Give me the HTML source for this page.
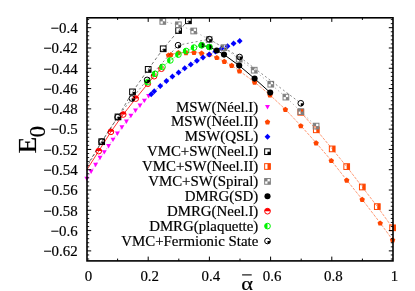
<!DOCTYPE html>
<html><head><meta charset="utf-8"><title>E0 vs alpha</title>
<style>
html,body{margin:0;padding:0;background:#fff;}
body{width:415px;height:291px;overflow:hidden;}
svg{display:block;font-family:"Liberation Serif",serif;fill:#000;will-change:transform;}
text{stroke:#000;stroke-width:0.18px;}
</style></head><body>
<svg width="415" height="291" viewBox="0 0 415 291">
<rect width="415" height="291" fill="#fff"/>
<g>
<polyline points="86.8,178.5 91.1,171.4 95.6,164.6 100.0,157.6 104.3,152.0 108.6,145.8 113.0,139.5 117.4,133.3 121.9,127.2 126.4,121.3 130.9,115.6 135.5,110.4 140.0,105.4 144.4,100.5 148.6,95.8" fill="none" stroke="#ff00ff" stroke-width="0.5" stroke-dasharray="2,1.5" stroke-opacity="0.8"/>
<polygon points="84.35,176.65 89.25,176.65 86.80,181.10" fill="#ff00ff"/>
<polygon points="88.65,169.55 93.55,169.55 91.10,174.00" fill="#ff00ff"/>
<polygon points="93.15,162.75 98.05,162.75 95.60,167.20" fill="#ff00ff"/>
<polygon points="97.55,155.75 102.45,155.75 100.00,160.20" fill="#ff00ff"/>
<polygon points="101.85,150.15 106.75,150.15 104.30,154.60" fill="#ff00ff"/>
<polygon points="106.15,143.95 111.05,143.95 108.60,148.40" fill="#ff00ff"/>
<polygon points="110.55,137.65 115.45,137.65 113.00,142.10" fill="#ff00ff"/>
<polygon points="114.95,131.45 119.85,131.45 117.40,135.90" fill="#ff00ff"/>
<polygon points="119.45,125.35 124.35,125.35 121.90,129.80" fill="#ff00ff"/>
<polygon points="123.95,119.45 128.85,119.45 126.40,123.90" fill="#ff00ff"/>
<polygon points="128.45,113.75 133.35,113.75 130.90,118.20" fill="#ff00ff"/>
<polygon points="133.05,108.55 137.95,108.55 135.50,113.00" fill="#ff00ff"/>
<polygon points="137.55,103.55 142.45,103.55 140.00,108.00" fill="#ff00ff"/>
<polygon points="141.95,98.65 146.85,98.65 144.40,103.10" fill="#ff00ff"/>
<polygon points="146.15,93.95 151.05,93.95 148.60,98.40" fill="#ff00ff"/>
<polyline points="168.5,55.0 170.9,54.5 178.4,52.6 186.0,52.6 194.0,52.4 201.6,53.1 209.4,54.4 216.8,57.5 224.3,61.4 231.7,65.3 239.5,71.0 254.6,82.1 270.0,95.0 285.4,109.4 300.8,125.7 316.1,142.8 331.3,160.5 346.7,180.1 362.2,199.4 380.2,223.0 392.6,239.9" fill="none" stroke="#ff4500" stroke-width="0.6" stroke-dasharray="3,1.2" stroke-opacity="0.9"/>
<polygon points="168.50,52.45 171.21,54.42 170.18,57.61 166.82,57.61 165.79,54.42" fill="#ff4500"/>
<polygon points="170.90,51.95 173.61,53.92 172.58,57.11 169.22,57.11 168.19,53.92" fill="#ff4500"/>
<polygon points="178.40,50.05 181.11,52.02 180.08,55.21 176.72,55.21 175.69,52.02" fill="#ff4500"/>
<polygon points="186.00,50.05 188.71,52.02 187.68,55.21 184.32,55.21 183.29,52.02" fill="#ff4500"/>
<polygon points="194.00,49.85 196.71,51.82 195.68,55.01 192.32,55.01 191.29,51.82" fill="#ff4500"/>
<polygon points="201.60,50.55 204.31,52.52 203.28,55.71 199.92,55.71 198.89,52.52" fill="#ff4500"/>
<polygon points="209.40,51.85 212.11,53.82 211.08,57.01 207.72,57.01 206.69,53.82" fill="#ff4500"/>
<polygon points="216.80,54.95 219.51,56.92 218.48,60.11 215.12,60.11 214.09,56.92" fill="#ff4500"/>
<polygon points="224.30,58.85 227.01,60.82 225.98,64.01 222.62,64.01 221.59,60.82" fill="#ff4500"/>
<polygon points="231.70,62.75 234.41,64.72 233.38,67.91 230.02,67.91 228.99,64.72" fill="#ff4500"/>
<polygon points="239.50,68.45 242.21,70.42 241.18,73.61 237.82,73.61 236.79,70.42" fill="#ff4500"/>
<polygon points="254.60,79.55 257.31,81.52 256.28,84.71 252.92,84.71 251.89,81.52" fill="#ff4500"/>
<polygon points="270.00,92.45 272.71,94.42 271.68,97.61 268.32,97.61 267.29,94.42" fill="#ff4500"/>
<polygon points="285.40,106.85 288.11,108.82 287.08,112.01 283.72,112.01 282.69,108.82" fill="#ff4500"/>
<polygon points="300.80,123.15 303.51,125.12 302.48,128.31 299.12,128.31 298.09,125.12" fill="#ff4500"/>
<polygon points="316.10,140.25 318.81,142.22 317.78,145.41 314.42,145.41 313.39,142.22" fill="#ff4500"/>
<polygon points="331.30,157.95 334.01,159.92 332.98,163.11 329.62,163.11 328.59,159.92" fill="#ff4500"/>
<polygon points="346.70,177.55 349.41,179.52 348.38,182.71 345.02,182.71 343.99,179.52" fill="#ff4500"/>
<polygon points="362.20,196.85 364.91,198.82 363.88,202.01 360.52,202.01 359.49,198.82" fill="#ff4500"/>
<polygon points="380.20,220.45 382.91,222.42 381.88,225.61 378.52,225.61 377.49,222.42" fill="#ff4500"/>
<polygon points="392.60,237.35 395.31,239.32 394.28,242.51 390.92,242.51 389.89,239.32" fill="#ff4500"/>
<polyline points="151.2,94.2 154.2,91.3 160.3,86.0 166.4,81.0 172.4,76.6 178.6,72.4 184.7,68.2 190.8,64.4 196.9,60.7 203.0,57.5 209.2,54.6 215.4,51.4 221.6,48.4 227.5,46.3 233.6,43.6 239.7,41.1" fill="none" stroke="#0000ff" stroke-width="0.5" stroke-dasharray="2,1.5" stroke-opacity="0.8"/>
<polygon points="148.30,94.20 151.20,91.20 154.10,94.20 151.20,97.20" fill="#0000ff"/>
<polygon points="151.30,91.30 154.20,88.30 157.10,91.30 154.20,94.30" fill="#0000ff"/>
<polygon points="157.40,86.00 160.30,83.00 163.20,86.00 160.30,89.00" fill="#0000ff"/>
<polygon points="163.50,81.00 166.40,78.00 169.30,81.00 166.40,84.00" fill="#0000ff"/>
<polygon points="169.50,76.60 172.40,73.60 175.30,76.60 172.40,79.60" fill="#0000ff"/>
<polygon points="175.70,72.40 178.60,69.40 181.50,72.40 178.60,75.40" fill="#0000ff"/>
<polygon points="181.80,68.20 184.70,65.20 187.60,68.20 184.70,71.20" fill="#0000ff"/>
<polygon points="187.90,64.40 190.80,61.40 193.70,64.40 190.80,67.40" fill="#0000ff"/>
<polygon points="194.00,60.70 196.90,57.70 199.80,60.70 196.90,63.70" fill="#0000ff"/>
<polygon points="200.10,57.50 203.00,54.50 205.90,57.50 203.00,60.50" fill="#0000ff"/>
<polygon points="206.30,54.60 209.20,51.60 212.10,54.60 209.20,57.60" fill="#0000ff"/>
<polygon points="212.50,51.40 215.40,48.40 218.30,51.40 215.40,54.40" fill="#0000ff"/>
<polygon points="218.70,48.40 221.60,45.40 224.50,48.40 221.60,51.40" fill="#0000ff"/>
<polygon points="224.60,46.30 227.50,43.30 230.40,46.30 227.50,49.30" fill="#0000ff"/>
<polygon points="230.70,43.60 233.60,40.60 236.50,43.60 233.60,46.60" fill="#0000ff"/>
<polygon points="236.80,41.10 239.70,38.10 242.60,41.10 239.70,44.10" fill="#0000ff"/>
<polyline points="86.6,166.3 101.7,141.7 118.0,116.9 132.5,91.9 148.2,69.4 163.2,48.8 178.6,30.5 188.4,20.8" fill="none" stroke="#000000" stroke-width="0.6" stroke-dasharray="3,2.5" stroke-opacity="0.9"/>
<rect x="98.85" y="138.85" width="5.7" height="5.7" fill="none" stroke="#000000" stroke-width="1"/>
<rect x="101.70" y="141.70" width="2.85" height="2.85" fill="#000000"/>
<rect x="115.15" y="114.05" width="5.7" height="5.7" fill="none" stroke="#000000" stroke-width="1"/>
<rect x="118.00" y="116.90" width="2.85" height="2.85" fill="#000000"/>
<rect x="129.65" y="89.05" width="5.7" height="5.7" fill="none" stroke="#000000" stroke-width="1"/>
<rect x="132.50" y="91.90" width="2.85" height="2.85" fill="#000000"/>
<rect x="145.35" y="66.55" width="5.7" height="5.7" fill="none" stroke="#000000" stroke-width="1"/>
<rect x="148.20" y="69.40" width="2.85" height="2.85" fill="#000000"/>
<rect x="160.35" y="45.95" width="5.7" height="5.7" fill="none" stroke="#000000" stroke-width="1"/>
<rect x="163.20" y="48.80" width="2.85" height="2.85" fill="#000000"/>
<rect x="175.75" y="27.65" width="5.7" height="5.7" fill="none" stroke="#000000" stroke-width="1"/>
<rect x="178.60" y="30.50" width="2.85" height="2.85" fill="#000000"/>
<rect x="185.55" y="17.95" width="5.7" height="5.7" fill="none" stroke="#000000" stroke-width="1"/>
<rect x="188.40" y="20.80" width="2.85" height="2.85" fill="#000000"/>
<polyline points="300.8,112.3 316.3,129.8 332.2,148.9 346.7,166.6 362.3,187.0 377.3,206.6 392.6,227.8" fill="none" stroke="#ff4500" stroke-width="0.6" stroke-dasharray="3,1.2" stroke-opacity="0.9"/>
<rect x="297.95" y="109.45" width="5.7" height="5.7" fill="none" stroke="#ff4500" stroke-width="1"/>
<rect x="300.80" y="109.45" width="2.85" height="5.7" fill="#ff4500"/>
<rect x="313.45" y="126.95" width="5.7" height="5.7" fill="none" stroke="#ff4500" stroke-width="1"/>
<rect x="316.30" y="126.95" width="2.85" height="5.7" fill="#ff4500"/>
<rect x="329.35" y="146.05" width="5.7" height="5.7" fill="none" stroke="#ff4500" stroke-width="1"/>
<rect x="332.20" y="146.05" width="2.85" height="5.7" fill="#ff4500"/>
<rect x="343.85" y="163.75" width="5.7" height="5.7" fill="none" stroke="#ff4500" stroke-width="1"/>
<rect x="346.70" y="163.75" width="2.85" height="5.7" fill="#ff4500"/>
<rect x="359.45" y="184.15" width="5.7" height="5.7" fill="none" stroke="#ff4500" stroke-width="1"/>
<rect x="362.30" y="184.15" width="2.85" height="5.7" fill="#ff4500"/>
<rect x="374.45" y="203.75" width="5.7" height="5.7" fill="none" stroke="#ff4500" stroke-width="1"/>
<rect x="377.30" y="203.75" width="2.85" height="5.7" fill="#ff4500"/>
<rect x="389.75" y="224.95" width="5.7" height="5.7" fill="none" stroke="#ff4500" stroke-width="1"/>
<rect x="392.60" y="224.95" width="2.85" height="5.7" fill="#ff4500"/>
<polyline points="162.8,21.4 178.4,24.8 193.7,31.0 209.2,39.5 224.0,47.7 239.2,59.2 254.2,70.2 270.8,84.2 285.9,97.1 300.8,111.6 316.1,126.1" fill="none" stroke="#808080" stroke-width="0.6" stroke-dasharray="1.5,2.5" stroke-opacity="0.9"/>
<rect x="159.95" y="18.55" width="5.7" height="5.7" fill="none" stroke="#808080" stroke-width="1"/>
<rect x="159.95" y="18.55" width="2.85" height="2.85" fill="#808080"/>
<rect x="162.80" y="21.40" width="2.85" height="2.85" fill="#808080"/>
<rect x="175.55" y="21.95" width="5.7" height="5.7" fill="none" stroke="#808080" stroke-width="1"/>
<rect x="175.55" y="21.95" width="2.85" height="2.85" fill="#808080"/>
<rect x="178.40" y="24.80" width="2.85" height="2.85" fill="#808080"/>
<rect x="190.85" y="28.15" width="5.7" height="5.7" fill="none" stroke="#808080" stroke-width="1"/>
<rect x="190.85" y="28.15" width="2.85" height="2.85" fill="#808080"/>
<rect x="193.70" y="31.00" width="2.85" height="2.85" fill="#808080"/>
<rect x="206.35" y="36.65" width="5.7" height="5.7" fill="none" stroke="#808080" stroke-width="1"/>
<rect x="206.35" y="36.65" width="2.85" height="2.85" fill="#808080"/>
<rect x="209.20" y="39.50" width="2.85" height="2.85" fill="#808080"/>
<rect x="221.15" y="44.85" width="5.7" height="5.7" fill="none" stroke="#808080" stroke-width="1"/>
<rect x="221.15" y="44.85" width="2.85" height="2.85" fill="#808080"/>
<rect x="224.00" y="47.70" width="2.85" height="2.85" fill="#808080"/>
<rect x="236.35" y="56.35" width="5.7" height="5.7" fill="none" stroke="#808080" stroke-width="1"/>
<rect x="236.35" y="56.35" width="2.85" height="2.85" fill="#808080"/>
<rect x="239.20" y="59.20" width="2.85" height="2.85" fill="#808080"/>
<rect x="251.35" y="67.35" width="5.7" height="5.7" fill="none" stroke="#808080" stroke-width="1"/>
<rect x="251.35" y="67.35" width="2.85" height="2.85" fill="#808080"/>
<rect x="254.20" y="70.20" width="2.85" height="2.85" fill="#808080"/>
<rect x="267.95" y="81.35" width="5.7" height="5.7" fill="none" stroke="#808080" stroke-width="1"/>
<rect x="267.95" y="81.35" width="2.85" height="2.85" fill="#808080"/>
<rect x="270.80" y="84.20" width="2.85" height="2.85" fill="#808080"/>
<rect x="283.05" y="94.25" width="5.7" height="5.7" fill="none" stroke="#808080" stroke-width="1"/>
<rect x="283.05" y="94.25" width="2.85" height="2.85" fill="#808080"/>
<rect x="285.90" y="97.10" width="2.85" height="2.85" fill="#808080"/>
<rect x="297.95" y="108.75" width="5.7" height="5.7" fill="none" stroke="#808080" stroke-width="1"/>
<rect x="297.95" y="108.75" width="2.85" height="2.85" fill="#808080"/>
<rect x="300.80" y="111.60" width="2.85" height="2.85" fill="#808080"/>
<rect x="313.25" y="123.25" width="5.7" height="5.7" fill="none" stroke="#808080" stroke-width="1"/>
<rect x="313.25" y="123.25" width="2.85" height="2.85" fill="#808080"/>
<rect x="316.10" y="126.10" width="2.85" height="2.85" fill="#808080"/>
<polyline points="201.7,45.3 209.4,47.0 216.7,50.5 224.0,54.6 239.2,65.6 254.6,78.6 270.2,92.6" fill="none" stroke="#000000" stroke-width="1.0" stroke-opacity="1"/>
<circle cx="201.70" cy="45.30" r="3.0500000000000003" fill="#000000"/>
<circle cx="209.40" cy="47.00" r="3.0500000000000003" fill="#000000"/>
<circle cx="216.70" cy="50.50" r="3.0500000000000003" fill="#000000"/>
<circle cx="224.00" cy="54.60" r="3.0500000000000003" fill="#000000"/>
<circle cx="239.20" cy="65.60" r="3.0500000000000003" fill="#000000"/>
<circle cx="254.60" cy="78.60" r="3.0500000000000003" fill="#000000"/>
<circle cx="270.20" cy="92.60" r="3.0500000000000003" fill="#000000"/>
<polyline points="86.6,170.2 98.7,151.1 110.9,131.8 123.2,114.5 135.7,98.6 147.8,83.7 154.1,76.2 161.5,68.7" fill="none" stroke="#ff0000" stroke-width="0.8" stroke-opacity="1"/>
<circle cx="98.70" cy="151.10" r="2.85" fill="none" stroke="#ff0000" stroke-width="1.0"/>
<path d="M95.85,151.10 A2.85,2.85 0 0 1 101.55,151.10 Z" fill="#ff0000"/>
<circle cx="110.90" cy="131.80" r="2.85" fill="none" stroke="#ff0000" stroke-width="1.0"/>
<path d="M108.05,131.80 A2.85,2.85 0 0 1 113.75,131.80 Z" fill="#ff0000"/>
<circle cx="123.20" cy="114.50" r="2.85" fill="none" stroke="#ff0000" stroke-width="1.0"/>
<path d="M120.35,114.50 A2.85,2.85 0 0 1 126.05,114.50 Z" fill="#ff0000"/>
<circle cx="135.70" cy="98.60" r="2.85" fill="none" stroke="#ff0000" stroke-width="1.0"/>
<path d="M132.85,98.60 A2.85,2.85 0 0 1 138.55,98.60 Z" fill="#ff0000"/>
<circle cx="147.80" cy="83.70" r="2.85" fill="none" stroke="#ff0000" stroke-width="1.0"/>
<path d="M144.95,83.70 A2.85,2.85 0 0 1 150.65,83.70 Z" fill="#ff0000"/>
<circle cx="154.10" cy="76.20" r="2.85" fill="none" stroke="#ff0000" stroke-width="1.0"/>
<path d="M151.25,76.20 A2.85,2.85 0 0 1 156.95,76.20 Z" fill="#ff0000"/>
<circle cx="161.50" cy="68.70" r="2.85" fill="none" stroke="#ff0000" stroke-width="1.0"/>
<path d="M158.65,68.70 A2.85,2.85 0 0 1 164.35,68.70 Z" fill="#ff0000"/>
<polyline points="147.6,82.2 155.0,73.8 162.5,66.9 170.3,60.4 178.4,54.6 186.1,51.0 194.0,47.6 201.7,45.3 209.4,47.0" fill="none" stroke="#00f400" stroke-width="0.6" stroke-opacity="0.7"/>
<circle cx="147.60" cy="82.20" r="2.85" fill="#fff" fill-opacity="0.5" stroke="#00f400" stroke-width="1.0"/>
<path d="M147.60,79.35 A2.85,2.85 0 0 0 147.60,85.05 Z" fill="#00f400"/>
<circle cx="155.00" cy="73.80" r="2.85" fill="#fff" fill-opacity="0.5" stroke="#00f400" stroke-width="1.0"/>
<path d="M155.00,70.95 A2.85,2.85 0 0 0 155.00,76.65 Z" fill="#00f400"/>
<circle cx="162.50" cy="66.90" r="2.85" fill="#fff" fill-opacity="0.5" stroke="#00f400" stroke-width="1.0"/>
<path d="M162.50,64.05 A2.85,2.85 0 0 0 162.50,69.75 Z" fill="#00f400"/>
<circle cx="170.30" cy="60.40" r="2.85" fill="none" stroke="#00f400" stroke-width="1.0"/>
<path d="M170.30,57.55 A2.85,2.85 0 0 0 170.30,63.25 Z" fill="#00f400"/>
<circle cx="178.40" cy="54.60" r="2.85" fill="none" stroke="#00f400" stroke-width="1.0"/>
<path d="M178.40,51.75 A2.85,2.85 0 0 0 178.40,57.45 Z" fill="#00f400"/>
<circle cx="186.10" cy="51.00" r="2.85" fill="none" stroke="#00f400" stroke-width="1.0"/>
<path d="M186.10,48.15 A2.85,2.85 0 0 0 186.10,53.85 Z" fill="#00f400"/>
<circle cx="194.00" cy="47.60" r="2.85" fill="none" stroke="#00f400" stroke-width="1.0"/>
<path d="M194.00,44.75 A2.85,2.85 0 0 0 194.00,50.45 Z" fill="#00f400"/>
<circle cx="201.70" cy="45.30" r="2.85" fill="none" stroke="#00f400" stroke-width="1.0"/>
<path d="M201.70,42.45 A2.85,2.85 0 0 0 201.70,48.15 Z" fill="#00f400"/>
<circle cx="209.40" cy="47.00" r="2.85" fill="none" stroke="#00f400" stroke-width="1.0"/>
<path d="M209.40,44.15 A2.85,2.85 0 0 0 209.40,49.85 Z" fill="#00f400"/>
<polyline points="86.6,167.5 101.7,141.7 117.6,117.2 131.9,98.5 147.1,79.9 178.1,45.2 209.3,39.2 239.6,57.0 300.8,103.3" fill="none" stroke="#000000" stroke-width="0.55" stroke-dasharray="2,2.5" stroke-opacity="0.85"/>
<circle cx="101.70" cy="141.70" r="2.85" fill="none" stroke="#000000" stroke-width="1.0"/>
<path d="M101.70,141.70 L104.55,141.70 A2.85,2.85 0 0 1 101.70,144.55 Z" fill="#000000"/>
<circle cx="117.60" cy="117.20" r="2.85" fill="none" stroke="#000000" stroke-width="1.0"/>
<path d="M117.60,117.20 L120.45,117.20 A2.85,2.85 0 0 1 117.60,120.05 Z" fill="#000000"/>
<circle cx="131.90" cy="98.50" r="2.85" fill="none" stroke="#000000" stroke-width="1.0"/>
<path d="M131.90,98.50 L134.75,98.50 A2.85,2.85 0 0 1 131.90,101.35 Z" fill="#000000"/>
<circle cx="147.10" cy="79.90" r="2.85" fill="none" stroke="#000000" stroke-width="1.0"/>
<path d="M147.10,79.90 L149.95,79.90 A2.85,2.85 0 0 1 147.10,82.75 Z" fill="#000000"/>
<circle cx="178.10" cy="45.20" r="2.85" fill="none" stroke="#000000" stroke-width="1.0"/>
<path d="M178.10,45.20 L180.95,45.20 A2.85,2.85 0 0 1 178.10,48.05 Z" fill="#000000"/>
<circle cx="209.30" cy="39.20" r="2.85" fill="none" stroke="#000000" stroke-width="1.0"/>
<path d="M209.30,39.20 L212.15,39.20 A2.85,2.85 0 0 1 209.30,42.05 Z" fill="#000000"/>
<circle cx="239.60" cy="57.00" r="2.85" fill="none" stroke="#000000" stroke-width="1.0"/>
<path d="M239.60,57.00 L242.45,57.00 A2.85,2.85 0 0 1 239.60,59.85 Z" fill="#000000"/>
<circle cx="300.80" cy="103.30" r="2.85" fill="none" stroke="#000000" stroke-width="1.0"/>
<path d="M300.80,103.30 L303.65,103.30 A2.85,2.85 0 0 1 300.80,106.15 Z" fill="#000000"/>
<polygon points="265.05,105.05 269.95,105.05 267.50,109.50" fill="#ff00ff"/>
<polygon points="267.50,119.25 270.21,121.22 269.18,124.41 265.82,124.41 264.79,121.22" fill="#ff4500"/>
<polygon points="264.60,136.70 267.50,133.70 270.40,136.70 267.50,139.70" fill="#0000ff"/>
<rect x="264.65" y="148.85" width="5.7" height="5.7" fill="none" stroke="#000000" stroke-width="1"/>
<rect x="267.50" y="151.70" width="2.85" height="2.85" fill="#000000"/>
<rect x="264.65" y="163.65" width="5.7" height="5.7" fill="none" stroke="#ff4500" stroke-width="1"/>
<rect x="267.50" y="163.65" width="2.85" height="5.7" fill="#ff4500"/>
<rect x="264.65" y="178.55" width="5.7" height="5.7" fill="none" stroke="#808080" stroke-width="1"/>
<rect x="264.65" y="178.55" width="2.85" height="2.85" fill="#808080"/>
<rect x="267.50" y="181.40" width="2.85" height="2.85" fill="#808080"/>
<circle cx="267.50" cy="196.30" r="3.0500000000000003" fill="#000000"/>
<circle cx="267.50" cy="211.20" r="2.85" fill="none" stroke="#ff0000" stroke-width="1.0"/>
<path d="M264.65,211.20 A2.85,2.85 0 0 1 270.35,211.20 Z" fill="#ff0000"/>
<circle cx="267.50" cy="226.10" r="2.85" fill="none" stroke="#00f400" stroke-width="1.0"/>
<path d="M267.50,223.25 A2.85,2.85 0 0 0 267.50,228.95 Z" fill="#00f400"/>
<circle cx="267.50" cy="241.00" r="2.85" fill="none" stroke="#000000" stroke-width="1.0"/>
<path d="M267.50,241.00 L270.35,241.00 A2.85,2.85 0 0 1 267.50,243.85 Z" fill="#000000"/>
<text x="258.3" y="111.5" text-anchor="end" font-size="14.9">MSW(Néel.I)</text>
<text x="258.3" y="126.4" text-anchor="end" font-size="14.9">MSW(Néel.II)</text>
<text x="258.3" y="141.3" text-anchor="end" font-size="14.9">MSW(QSL)</text>
<text x="258.3" y="156.2" text-anchor="end" font-size="14.9">VMC+SW(Neel.I)</text>
<text x="258.3" y="171.1" text-anchor="end" font-size="14.9">VMC+SW(Neel.II)</text>
<text x="258.3" y="186.0" text-anchor="end" font-size="14.9">VMC+SW(Spiral)</text>
<text x="258.3" y="200.9" text-anchor="end" font-size="14.9">DMRG(SD)</text>
<text x="258.3" y="215.8" text-anchor="end" font-size="14.9">DMRG(Neel.I)</text>
<text x="258.3" y="230.7" text-anchor="end" font-size="14.9">DMRG(plaquette)</text>
<text x="258.3" y="245.6" text-anchor="end" font-size="14.9">VMC+Fermionic State</text>
</g>
<g>
<rect x="87.0" y="17.8" width="306.0" height="243.1" fill="none" stroke="#000" stroke-width="1.6"/>
<line x1="87.0" y1="259.01" x2="89.2" y2="259.01" stroke="#000" stroke-width="0.9"/>
<line x1="393.0" y1="259.01" x2="390.8" y2="259.01" stroke="#000" stroke-width="0.9"/>
<line x1="87.0" y1="254.95" x2="89.2" y2="254.95" stroke="#000" stroke-width="0.9"/>
<line x1="393.0" y1="254.95" x2="390.8" y2="254.95" stroke="#000" stroke-width="0.9"/>
<line x1="87.0" y1="250.89" x2="91.2" y2="250.89" stroke="#000" stroke-width="1"/>
<line x1="393.0" y1="250.89" x2="388.8" y2="250.89" stroke="#000" stroke-width="1"/>
<line x1="87.0" y1="246.83" x2="89.2" y2="246.83" stroke="#000" stroke-width="0.9"/>
<line x1="393.0" y1="246.83" x2="390.8" y2="246.83" stroke="#000" stroke-width="0.9"/>
<line x1="87.0" y1="242.77" x2="89.2" y2="242.77" stroke="#000" stroke-width="0.9"/>
<line x1="393.0" y1="242.77" x2="390.8" y2="242.77" stroke="#000" stroke-width="0.9"/>
<line x1="87.0" y1="238.72" x2="89.2" y2="238.72" stroke="#000" stroke-width="0.9"/>
<line x1="393.0" y1="238.72" x2="390.8" y2="238.72" stroke="#000" stroke-width="0.9"/>
<line x1="87.0" y1="234.66" x2="89.2" y2="234.66" stroke="#000" stroke-width="0.9"/>
<line x1="393.0" y1="234.66" x2="390.8" y2="234.66" stroke="#000" stroke-width="0.9"/>
<line x1="87.0" y1="230.60" x2="91.2" y2="230.60" stroke="#000" stroke-width="1"/>
<line x1="393.0" y1="230.60" x2="388.8" y2="230.60" stroke="#000" stroke-width="1"/>
<line x1="87.0" y1="226.54" x2="89.2" y2="226.54" stroke="#000" stroke-width="0.9"/>
<line x1="393.0" y1="226.54" x2="390.8" y2="226.54" stroke="#000" stroke-width="0.9"/>
<line x1="87.0" y1="222.48" x2="89.2" y2="222.48" stroke="#000" stroke-width="0.9"/>
<line x1="393.0" y1="222.48" x2="390.8" y2="222.48" stroke="#000" stroke-width="0.9"/>
<line x1="87.0" y1="218.43" x2="89.2" y2="218.43" stroke="#000" stroke-width="0.9"/>
<line x1="393.0" y1="218.43" x2="390.8" y2="218.43" stroke="#000" stroke-width="0.9"/>
<line x1="87.0" y1="214.37" x2="89.2" y2="214.37" stroke="#000" stroke-width="0.9"/>
<line x1="393.0" y1="214.37" x2="390.8" y2="214.37" stroke="#000" stroke-width="0.9"/>
<line x1="87.0" y1="210.31" x2="91.2" y2="210.31" stroke="#000" stroke-width="1"/>
<line x1="393.0" y1="210.31" x2="388.8" y2="210.31" stroke="#000" stroke-width="1"/>
<line x1="87.0" y1="206.25" x2="89.2" y2="206.25" stroke="#000" stroke-width="0.9"/>
<line x1="393.0" y1="206.25" x2="390.8" y2="206.25" stroke="#000" stroke-width="0.9"/>
<line x1="87.0" y1="202.19" x2="89.2" y2="202.19" stroke="#000" stroke-width="0.9"/>
<line x1="393.0" y1="202.19" x2="390.8" y2="202.19" stroke="#000" stroke-width="0.9"/>
<line x1="87.0" y1="198.14" x2="89.2" y2="198.14" stroke="#000" stroke-width="0.9"/>
<line x1="393.0" y1="198.14" x2="390.8" y2="198.14" stroke="#000" stroke-width="0.9"/>
<line x1="87.0" y1="194.08" x2="89.2" y2="194.08" stroke="#000" stroke-width="0.9"/>
<line x1="393.0" y1="194.08" x2="390.8" y2="194.08" stroke="#000" stroke-width="0.9"/>
<line x1="87.0" y1="190.02" x2="91.2" y2="190.02" stroke="#000" stroke-width="1"/>
<line x1="393.0" y1="190.02" x2="388.8" y2="190.02" stroke="#000" stroke-width="1"/>
<line x1="87.0" y1="185.96" x2="89.2" y2="185.96" stroke="#000" stroke-width="0.9"/>
<line x1="393.0" y1="185.96" x2="390.8" y2="185.96" stroke="#000" stroke-width="0.9"/>
<line x1="87.0" y1="181.90" x2="89.2" y2="181.90" stroke="#000" stroke-width="0.9"/>
<line x1="393.0" y1="181.90" x2="390.8" y2="181.90" stroke="#000" stroke-width="0.9"/>
<line x1="87.0" y1="177.85" x2="89.2" y2="177.85" stroke="#000" stroke-width="0.9"/>
<line x1="393.0" y1="177.85" x2="390.8" y2="177.85" stroke="#000" stroke-width="0.9"/>
<line x1="87.0" y1="173.79" x2="89.2" y2="173.79" stroke="#000" stroke-width="0.9"/>
<line x1="393.0" y1="173.79" x2="390.8" y2="173.79" stroke="#000" stroke-width="0.9"/>
<line x1="87.0" y1="169.73" x2="91.2" y2="169.73" stroke="#000" stroke-width="1"/>
<line x1="393.0" y1="169.73" x2="388.8" y2="169.73" stroke="#000" stroke-width="1"/>
<line x1="87.0" y1="165.67" x2="89.2" y2="165.67" stroke="#000" stroke-width="0.9"/>
<line x1="393.0" y1="165.67" x2="390.8" y2="165.67" stroke="#000" stroke-width="0.9"/>
<line x1="87.0" y1="161.61" x2="89.2" y2="161.61" stroke="#000" stroke-width="0.9"/>
<line x1="393.0" y1="161.61" x2="390.8" y2="161.61" stroke="#000" stroke-width="0.9"/>
<line x1="87.0" y1="157.56" x2="89.2" y2="157.56" stroke="#000" stroke-width="0.9"/>
<line x1="393.0" y1="157.56" x2="390.8" y2="157.56" stroke="#000" stroke-width="0.9"/>
<line x1="87.0" y1="153.50" x2="89.2" y2="153.50" stroke="#000" stroke-width="0.9"/>
<line x1="393.0" y1="153.50" x2="390.8" y2="153.50" stroke="#000" stroke-width="0.9"/>
<line x1="87.0" y1="149.44" x2="91.2" y2="149.44" stroke="#000" stroke-width="1"/>
<line x1="393.0" y1="149.44" x2="388.8" y2="149.44" stroke="#000" stroke-width="1"/>
<line x1="87.0" y1="145.38" x2="89.2" y2="145.38" stroke="#000" stroke-width="0.9"/>
<line x1="393.0" y1="145.38" x2="390.8" y2="145.38" stroke="#000" stroke-width="0.9"/>
<line x1="87.0" y1="141.32" x2="89.2" y2="141.32" stroke="#000" stroke-width="0.9"/>
<line x1="393.0" y1="141.32" x2="390.8" y2="141.32" stroke="#000" stroke-width="0.9"/>
<line x1="87.0" y1="137.27" x2="89.2" y2="137.27" stroke="#000" stroke-width="0.9"/>
<line x1="393.0" y1="137.27" x2="390.8" y2="137.27" stroke="#000" stroke-width="0.9"/>
<line x1="87.0" y1="133.21" x2="89.2" y2="133.21" stroke="#000" stroke-width="0.9"/>
<line x1="393.0" y1="133.21" x2="390.8" y2="133.21" stroke="#000" stroke-width="0.9"/>
<line x1="87.0" y1="129.15" x2="91.2" y2="129.15" stroke="#000" stroke-width="1"/>
<line x1="393.0" y1="129.15" x2="388.8" y2="129.15" stroke="#000" stroke-width="1"/>
<line x1="87.0" y1="125.09" x2="89.2" y2="125.09" stroke="#000" stroke-width="0.9"/>
<line x1="393.0" y1="125.09" x2="390.8" y2="125.09" stroke="#000" stroke-width="0.9"/>
<line x1="87.0" y1="121.03" x2="89.2" y2="121.03" stroke="#000" stroke-width="0.9"/>
<line x1="393.0" y1="121.03" x2="390.8" y2="121.03" stroke="#000" stroke-width="0.9"/>
<line x1="87.0" y1="116.98" x2="89.2" y2="116.98" stroke="#000" stroke-width="0.9"/>
<line x1="393.0" y1="116.98" x2="390.8" y2="116.98" stroke="#000" stroke-width="0.9"/>
<line x1="87.0" y1="112.92" x2="89.2" y2="112.92" stroke="#000" stroke-width="0.9"/>
<line x1="393.0" y1="112.92" x2="390.8" y2="112.92" stroke="#000" stroke-width="0.9"/>
<line x1="87.0" y1="108.86" x2="91.2" y2="108.86" stroke="#000" stroke-width="1"/>
<line x1="393.0" y1="108.86" x2="388.8" y2="108.86" stroke="#000" stroke-width="1"/>
<line x1="87.0" y1="104.80" x2="89.2" y2="104.80" stroke="#000" stroke-width="0.9"/>
<line x1="393.0" y1="104.80" x2="390.8" y2="104.80" stroke="#000" stroke-width="0.9"/>
<line x1="87.0" y1="100.74" x2="89.2" y2="100.74" stroke="#000" stroke-width="0.9"/>
<line x1="393.0" y1="100.74" x2="390.8" y2="100.74" stroke="#000" stroke-width="0.9"/>
<line x1="87.0" y1="96.69" x2="89.2" y2="96.69" stroke="#000" stroke-width="0.9"/>
<line x1="393.0" y1="96.69" x2="390.8" y2="96.69" stroke="#000" stroke-width="0.9"/>
<line x1="87.0" y1="92.63" x2="89.2" y2="92.63" stroke="#000" stroke-width="0.9"/>
<line x1="393.0" y1="92.63" x2="390.8" y2="92.63" stroke="#000" stroke-width="0.9"/>
<line x1="87.0" y1="88.57" x2="91.2" y2="88.57" stroke="#000" stroke-width="1"/>
<line x1="393.0" y1="88.57" x2="388.8" y2="88.57" stroke="#000" stroke-width="1"/>
<line x1="87.0" y1="84.51" x2="89.2" y2="84.51" stroke="#000" stroke-width="0.9"/>
<line x1="393.0" y1="84.51" x2="390.8" y2="84.51" stroke="#000" stroke-width="0.9"/>
<line x1="87.0" y1="80.45" x2="89.2" y2="80.45" stroke="#000" stroke-width="0.9"/>
<line x1="393.0" y1="80.45" x2="390.8" y2="80.45" stroke="#000" stroke-width="0.9"/>
<line x1="87.0" y1="76.40" x2="89.2" y2="76.40" stroke="#000" stroke-width="0.9"/>
<line x1="393.0" y1="76.40" x2="390.8" y2="76.40" stroke="#000" stroke-width="0.9"/>
<line x1="87.0" y1="72.34" x2="89.2" y2="72.34" stroke="#000" stroke-width="0.9"/>
<line x1="393.0" y1="72.34" x2="390.8" y2="72.34" stroke="#000" stroke-width="0.9"/>
<line x1="87.0" y1="68.28" x2="91.2" y2="68.28" stroke="#000" stroke-width="1"/>
<line x1="393.0" y1="68.28" x2="388.8" y2="68.28" stroke="#000" stroke-width="1"/>
<line x1="87.0" y1="64.22" x2="89.2" y2="64.22" stroke="#000" stroke-width="0.9"/>
<line x1="393.0" y1="64.22" x2="390.8" y2="64.22" stroke="#000" stroke-width="0.9"/>
<line x1="87.0" y1="60.16" x2="89.2" y2="60.16" stroke="#000" stroke-width="0.9"/>
<line x1="393.0" y1="60.16" x2="390.8" y2="60.16" stroke="#000" stroke-width="0.9"/>
<line x1="87.0" y1="56.11" x2="89.2" y2="56.11" stroke="#000" stroke-width="0.9"/>
<line x1="393.0" y1="56.11" x2="390.8" y2="56.11" stroke="#000" stroke-width="0.9"/>
<line x1="87.0" y1="52.05" x2="89.2" y2="52.05" stroke="#000" stroke-width="0.9"/>
<line x1="393.0" y1="52.05" x2="390.8" y2="52.05" stroke="#000" stroke-width="0.9"/>
<line x1="87.0" y1="47.99" x2="91.2" y2="47.99" stroke="#000" stroke-width="1"/>
<line x1="393.0" y1="47.99" x2="388.8" y2="47.99" stroke="#000" stroke-width="1"/>
<line x1="87.0" y1="43.93" x2="89.2" y2="43.93" stroke="#000" stroke-width="0.9"/>
<line x1="393.0" y1="43.93" x2="390.8" y2="43.93" stroke="#000" stroke-width="0.9"/>
<line x1="87.0" y1="39.87" x2="89.2" y2="39.87" stroke="#000" stroke-width="0.9"/>
<line x1="393.0" y1="39.87" x2="390.8" y2="39.87" stroke="#000" stroke-width="0.9"/>
<line x1="87.0" y1="35.82" x2="89.2" y2="35.82" stroke="#000" stroke-width="0.9"/>
<line x1="393.0" y1="35.82" x2="390.8" y2="35.82" stroke="#000" stroke-width="0.9"/>
<line x1="87.0" y1="31.76" x2="89.2" y2="31.76" stroke="#000" stroke-width="0.9"/>
<line x1="393.0" y1="31.76" x2="390.8" y2="31.76" stroke="#000" stroke-width="0.9"/>
<line x1="87.0" y1="27.70" x2="91.2" y2="27.70" stroke="#000" stroke-width="1"/>
<line x1="393.0" y1="27.70" x2="388.8" y2="27.70" stroke="#000" stroke-width="1"/>
<line x1="87.0" y1="23.64" x2="89.2" y2="23.64" stroke="#000" stroke-width="0.9"/>
<line x1="393.0" y1="23.64" x2="390.8" y2="23.64" stroke="#000" stroke-width="0.9"/>
<line x1="87.0" y1="19.58" x2="89.2" y2="19.58" stroke="#000" stroke-width="0.9"/>
<line x1="393.0" y1="19.58" x2="390.8" y2="19.58" stroke="#000" stroke-width="0.9"/>
<line x1="117.60" y1="260.8" x2="117.60" y2="258.6" stroke="#000" stroke-width="1"/>
<line x1="117.60" y1="17.7" x2="117.60" y2="19.9" stroke="#000" stroke-width="1"/>
<line x1="148.20" y1="260.8" x2="148.20" y2="256.6" stroke="#000" stroke-width="1"/>
<line x1="148.20" y1="17.7" x2="148.20" y2="21.9" stroke="#000" stroke-width="1"/>
<line x1="178.80" y1="260.8" x2="178.80" y2="258.6" stroke="#000" stroke-width="1"/>
<line x1="178.80" y1="17.7" x2="178.80" y2="19.9" stroke="#000" stroke-width="1"/>
<line x1="209.40" y1="260.8" x2="209.40" y2="256.6" stroke="#000" stroke-width="1"/>
<line x1="209.40" y1="17.7" x2="209.40" y2="21.9" stroke="#000" stroke-width="1"/>
<line x1="240.00" y1="260.8" x2="240.00" y2="258.6" stroke="#000" stroke-width="1"/>
<line x1="240.00" y1="17.7" x2="240.00" y2="19.9" stroke="#000" stroke-width="1"/>
<line x1="270.60" y1="260.8" x2="270.60" y2="256.6" stroke="#000" stroke-width="1"/>
<line x1="270.60" y1="17.7" x2="270.60" y2="21.9" stroke="#000" stroke-width="1"/>
<line x1="301.20" y1="260.8" x2="301.20" y2="258.6" stroke="#000" stroke-width="1"/>
<line x1="301.20" y1="17.7" x2="301.20" y2="19.9" stroke="#000" stroke-width="1"/>
<line x1="331.80" y1="260.8" x2="331.80" y2="256.6" stroke="#000" stroke-width="1"/>
<line x1="331.80" y1="17.7" x2="331.80" y2="21.9" stroke="#000" stroke-width="1"/>
<line x1="362.40" y1="260.8" x2="362.40" y2="258.6" stroke="#000" stroke-width="1"/>
<line x1="362.40" y1="17.7" x2="362.40" y2="19.9" stroke="#000" stroke-width="1"/>
<text x="77.6" y="32.9" text-anchor="end" font-size="14.9">−0.4</text>
<text x="77.6" y="53.2" text-anchor="end" font-size="14.9">−0.42</text>
<text x="77.6" y="73.5" text-anchor="end" font-size="14.9">−0.44</text>
<text x="77.6" y="93.8" text-anchor="end" font-size="14.9">−0.46</text>
<text x="77.6" y="114.1" text-anchor="end" font-size="14.9">−0.48</text>
<text x="77.6" y="134.3" text-anchor="end" font-size="14.9">−0.5</text>
<text x="77.6" y="154.6" text-anchor="end" font-size="14.9">−0.52</text>
<text x="77.6" y="174.9" text-anchor="end" font-size="14.9">−0.54</text>
<text x="77.6" y="195.2" text-anchor="end" font-size="14.9">−0.56</text>
<text x="77.6" y="215.5" text-anchor="end" font-size="14.9">−0.58</text>
<text x="77.6" y="235.8" text-anchor="end" font-size="14.9">−0.6</text>
<text x="77.6" y="256.1" text-anchor="end" font-size="14.9">−0.62</text>
<text x="88.5" y="280.9" text-anchor="middle" font-size="14.9">0</text>
<text x="149.7" y="280.9" text-anchor="middle" font-size="14.9">0.2</text>
<text x="210.9" y="280.9" text-anchor="middle" font-size="14.9">0.4</text>
<text x="272.1" y="280.9" text-anchor="middle" font-size="14.9">0.6</text>
<text x="333.3" y="280.9" text-anchor="middle" font-size="14.9">0.8</text>
<text x="394.5" y="280.9" text-anchor="middle" font-size="14.9">1</text>
<g transform="translate(35.8,152.6) rotate(-90)"><text x="0" y="0" font-size="25.5" transform="translate(-0.8,0) scale(1.08,1)">E</text><text x="15.4" y="9.2" font-size="22.5">0</text></g>
<text x="0" y="0" font-size="20.5" transform="translate(241.2,289.7) scale(1.1,0.87)">α</text>
<line x1="242.1" y1="274.9" x2="251.7" y2="274.9" stroke="#000" stroke-width="1.1"/>
</g>
</svg>
</body></html>
